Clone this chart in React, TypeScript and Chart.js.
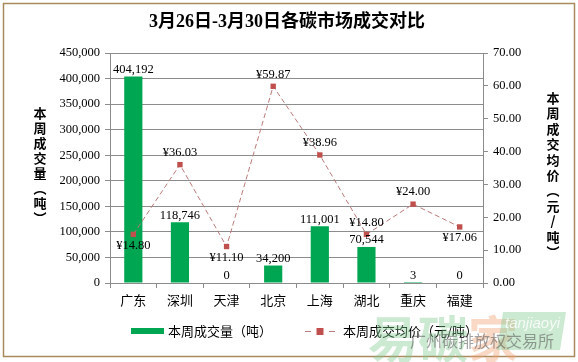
import React, { useEffect, useRef } from "react";
import { Chart, registerables } from "chart.js";

Chart.register(...registerables);

const categories = ["广东", "深圳", "天津", "北京", "上海", "湖北", "重庆", "福建"];
const volumes = [404192, 118746, 0, 34200, 111001, 70544, 3, 0];
const prices = [14.8, 36.03, 11.1, 59.87, 38.96, 14.8, 24.0, 17.06];
const priceLabelBelow = [true, false, true, false, false, false, false, true];
const volumeTicks = { min: 0, max: 450000, step: 50000 };
const priceTicks = { min: 0, max: 70, step: 10 };
const titleText = "3月26日-3月30日各碳市场成交对比";
const volumeName = "本周成交量（吨）";
const priceName = "本周成交均价（元/吨）";
const leftAxisTitle = ["本", "周", "成", "交", "量", "︵", "吨", "︶"];
const rightAxisTitle = ["本", "周", "成", "交", "均", "价", "︵", "元", "/", "吨", "︶"];

const BAR = "#00A651";
const LINE = "#C0504D";
const SERIF = "'Liberation Serif', 'Noto Sans CJK SC', serif";
const CJK = "'Noto Sans CJK SC', sans-serif";

const fmtInt = (v: number) => Math.round(v).toString().replace(/\B(?=(\d{3})+(?!\d))/g, ",");

const decorPlugin = {
  id: "decor",
  beforeDraw(chart: any) {
    const ctx = chart.ctx;
    ctx.save();
    ctx.fillStyle = "#ffffff";
    ctx.fillRect(0, 0, chart.width, chart.height);
    ctx.strokeStyle = "#A88A5E";
    ctx.lineWidth = 1.5;
    ctx.strokeRect(3.5, 3.5, 571, 353);
    ctx.restore();
  },
  afterDraw(chart: any) {
    const ctx = chart.ctx;
    ctx.save();
    // title
    ctx.fillStyle = "#000";
    ctx.font = `bold 18px ${SERIF}`;
    ctx.textAlign = "center";
    ctx.textBaseline = "middle";
    ctx.fillText(titleText, 287, 22);
    // axis titles
    ctx.font = `bold 13px ${CJK}`;
    leftAxisTitle.forEach((c, i) => ctx.fillText(c, 40, 113 + i * 15));
    rightAxisTitle.forEach((c, i) => ctx.fillText(c, 553, 98 + i * 15.4));
    // legend
    ctx.fillStyle = BAR;
    ctx.fillRect(131, 328, 33, 6);
    ctx.fillStyle = "#000";
    ctx.font = `13px ${CJK}`;
    ctx.textAlign = "left";
    ctx.fillText(volumeName, 168, 331);
    ctx.strokeStyle = "#B97A78";
    ctx.lineWidth = 1;
    ctx.beginPath();
    ctx.moveTo(305, 331.5);
    ctx.lineTo(311, 331.5);
    ctx.moveTo(329, 331.5);
    ctx.lineTo(335, 331.5);
    ctx.stroke();
    ctx.fillStyle = LINE;
    ctx.fillRect(316.5, 328, 7, 7);
    ctx.fillStyle = "#000";
    ctx.fillText(priceName, 343, 331);
    // watermark
    ctx.globalAlpha = 0.4;
    ctx.font = `bold 50px ${CJK}`;
    ctx.fillStyle = "#7FC98E";
    ctx.textBaseline = "alphabetic";
    ctx.fillText("易碳", 368, 358);
    ctx.fillStyle = "#F0A070";
    ctx.fillText("家", 468, 358);
    ctx.fillStyle = "#7FC98E";
    ctx.beginPath();
    ctx.moveTo(503, 312);
    ctx.lineTo(566, 312);
    ctx.lineTo(560, 350);
    ctx.lineTo(497, 350);
    ctx.closePath();
    ctx.fill();
    ctx.globalAlpha = 0.8;
    ctx.fillStyle = "#ffffff";
    ctx.font = `italic 15px 'Liberation Sans', sans-serif`;
    ctx.fillText("tanjiaoyi", 505, 328);
    ctx.globalAlpha = 0.55;
    ctx.fillStyle = "#555";
    ctx.font = `16px ${CJK}`;
    ctx.fillText("广州碳排放权交易所", 410, 347);
    ctx.restore();
  },
  afterDatasetsDraw(chart: any) {
    const ctx = chart.ctx;
    ctx.save();
    ctx.fillStyle = "#000";
    ctx.font = `12.5px ${SERIF}`;
    ctx.textAlign = "center";
    ctx.textBaseline = "middle";
    const barMeta = chart.getDatasetMeta(0);
    barMeta.data.forEach((el: any, i: number) => {
      ctx.fillText(fmtInt(volumes[i]), el.x, el.y - 7);
    });
    const lineMeta = chart.getDatasetMeta(1);
    lineMeta.data.forEach((el: any, i: number) => {
      const dy = priceLabelBelow[i] ? 11 : -12;
      ctx.fillText("¥" + prices[i].toFixed(2), el.x, el.y + dy);
    });
    ctx.restore();
  },
};

export default function App() {
  const ref = useRef<HTMLCanvasElement | null>(null);
  useEffect(() => {
    document.body.style.margin = "0";
    const canvas = ref.current!;
    const chart = new Chart(canvas, {
      type: "bar",
      data: {
        labels: categories,
        datasets: [
          {
            type: "bar",
            label: volumeName,
            data: volumes,
            backgroundColor: BAR,
            yAxisID: "y",
            categoryPercentage: 1,
            barPercentage: 0.39,
            order: 2,
          },
          {
            type: "line",
            label: priceName,
            data: prices,
            yAxisID: "y1",
            borderColor: "#B97A78",
            borderWidth: 1,
            borderDash: [5, 3],
            pointStyle: "rect",
            pointRadius: 3.8,
            pointBackgroundColor: LINE,
            pointBorderColor: LINE,
            pointBorderWidth: 0,
            tension: 0,
            order: 1,
          } as any,
        ],
      },
      options: {
        responsive: false,
        animation: false,
        devicePixelRatio: 1,
        layout: { padding: { top: 53, left: 0, right: 0, bottom: 0 } },
        plugins: {
          legend: { display: false },
          title: { display: false },
          tooltip: { enabled: false },
        },
        scales: {
          x: {
            offset: true,
            grid: {
              offset: true,
              drawOnChartArea: false,
              tickLength: 5,
              color: "#8c8c8c",
            },
            border: { color: "#8c8c8c" },
            ticks: { color: "#000", font: { size: 13, family: CJK }, padding: 4 },
            afterFit: (s: any) => {
              s.height = 79;
            },
          },
          y: {
            position: "left",
            min: volumeTicks.min,
            max: volumeTicks.max,
            ticks: {
              stepSize: volumeTicks.step,
              color: "#000",
              font: { size: 12.5, family: SERIF },
              padding: 5,
              callback: (v: any) => fmtInt(Number(v)),
            },
            grid: { color: "#8c8c8c", tickLength: 5 },
            border: { color: "#8c8c8c" },
            afterFit: (s: any) => {
              s.width = 110;
            },
          },
          y1: {
            position: "right",
            min: priceTicks.min,
            max: priceTicks.max,
            ticks: {
              stepSize: priceTicks.step,
              color: "#000",
              font: { size: 12.5, family: SERIF },
              padding: 5,
              callback: (v: any) => Number(v).toFixed(2),
            },
            grid: { drawOnChartArea: false, color: "#8c8c8c", tickLength: 5 },
            border: { color: "#8c8c8c" },
            afterFit: (s: any) => {
              s.width = 95;
            },
          },
        },
      },
      plugins: [decorPlugin],
    });
    return () => chart.destroy();
  }, []);
  return (
    <div style={{ position: "absolute", left: 0, top: 0, width: 578, height: 362 }}>
      <canvas ref={ref} width={578} height={362} style={{ display: "block" }} />
    </div>
  );
}
